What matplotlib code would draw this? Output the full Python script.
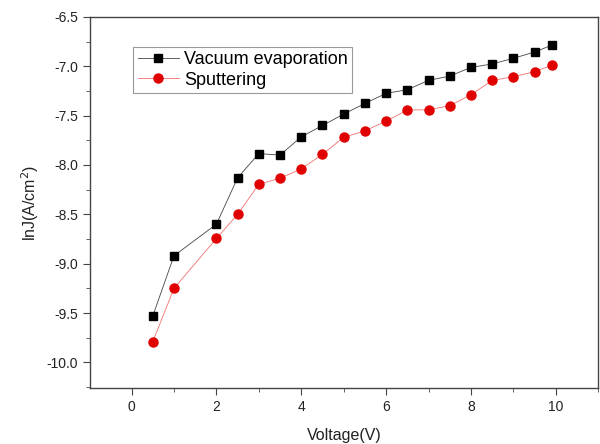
import matplotlib
matplotlib.use('Agg')
import matplotlib.pyplot as plt
from matplotlib.ticker import MultipleLocator

plt.rcParams['font.family'] = ['Liberation Sans', 'DejaVu Sans']

# Data
voltage = [0.5, 1, 2, 2.5, 3, 3.5, 4, 4.5, 5, 5.5, 6, 6.5, 7, 7.5, 8, 8.5, 9, 9.5, 9.9]
vacuum = [-9.53, -8.92, -8.60, -8.13, -7.885, -7.90, -7.715, -7.60, -7.485, -7.377,
          -7.275, -7.238, -7.143, -7.10, -7.012, -6.977, -6.92, -6.856, -6.788]
sputter = [-9.79, -9.25, -8.745, -8.50, -8.195, -8.135, -8.04, -7.893, -7.72, -7.655,
           -7.556, -7.444, -7.441, -7.40, -7.289, -7.144, -7.106, -7.055, -6.991]

fig = plt.figure(figsize=(6, 4.44), dpi=100)
ax = fig.add_axes([0.15, 0.126, 0.847, 0.836])

ax.plot(voltage, vacuum, color='#444444', lw=0.6, marker='s', ms=5.8,
        mfc='black', mec='black', label='Vacuum evaporation')
ax.plot(voltage, sputter, color='#f07070', lw=0.6, marker='o', ms=6.5,
        mfc='#e00000', mec='#e00000', label='Sputtering')

ax.set_xlim(-0.98, 11)
ax.set_ylim(-10.26, -6.5)
ax.xaxis.set_major_locator(MultipleLocator(2))
ax.xaxis.set_minor_locator(MultipleLocator(1))
ax.yaxis.set_major_locator(MultipleLocator(0.5))
ax.yaxis.set_minor_locator(MultipleLocator(0.25))
ax.yaxis.set_major_formatter(matplotlib.ticker.FormatStrFormatter('%.1f'))

for s in ax.spines.values():
    s.set_color('#444444')
    s.set_linewidth(1.0)
ax.tick_params(which='both', direction='out', top=False, right=False,
               color='#444444', labelsize=10, labelcolor='#222222')
ax.tick_params(which='major', length=5)
ax.tick_params(which='minor', length=3)

ax.set_xlabel('Voltage(V)', fontsize=11.5, color='#222222', labelpad=10)
ax.set_ylabel('lnJ(A/cm$^2$)', fontsize=11.5, color='#222222', labelpad=4)

leg = ax.legend(loc='upper left', bbox_to_anchor=(0.085, 0.92), fontsize=13,
                fancybox=False, framealpha=1, edgecolor='#999999',
                handlelength=2.3, handletextpad=0.25, borderpad=0.25,
                labelspacing=0.2, borderaxespad=0)
leg.get_frame().set_linewidth(0.8)

fig.savefig('out.png', dpi=100)
